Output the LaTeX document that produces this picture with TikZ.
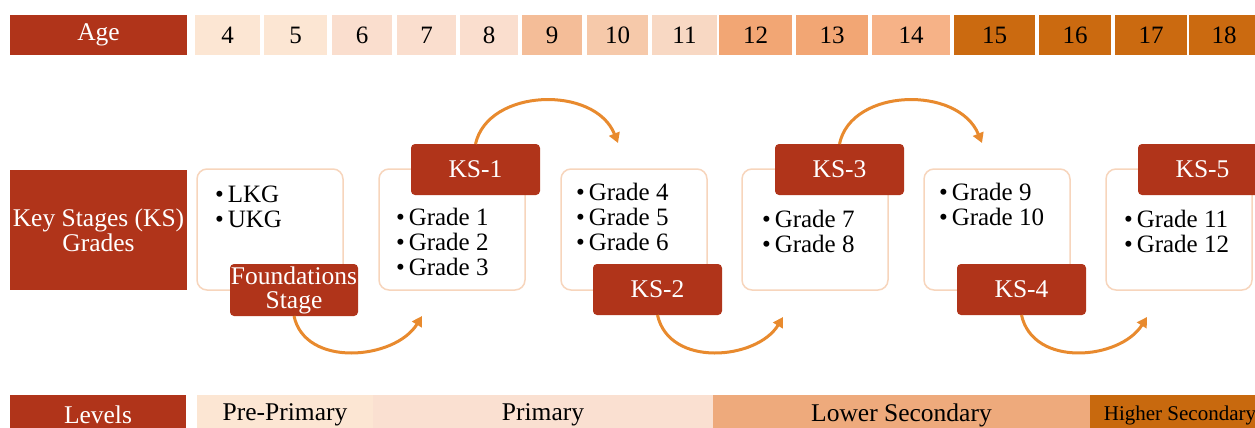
\documentclass[tikz,border=0pt]{standalone}
\usepackage{fontspec}
\setmainfont{Liberation Serif}
\usetikzlibrary{arrows.meta}
\definecolor{dred}{HTML}{B0341A}
\definecolor{cA}{HTML}{FCE6D3}
\definecolor{cB}{HTML}{FADECE}
\definecolor{cC}{HTML}{F4BD98}
\definecolor{cD}{HTML}{F6C9AA}
\definecolor{cE}{HTML}{F8D8C3}
\definecolor{cF}{HTML}{F2A674}
\definecolor{cG}{HTML}{F6B287}
\definecolor{cH}{HTML}{CB6A10}
\definecolor{lvA}{HTML}{FCE6D3}
\definecolor{lvB}{HTML}{FAE0D1}
\definecolor{lvC}{HTML}{EEAA7C}
\definecolor{lvD}{HTML}{C8690E}
\definecolor{gborder}{HTML}{F7D5BC}
\definecolor{arcc}{HTML}{E88A2E}
\begin{document}
\begin{tikzpicture}[x=1pt,y=-1pt,
  every node/.style={inner sep=0pt,outer sep=0pt},
  bigfont/.style={font=\fontsize{25.5}{25}\selectfont},
  headbox/.style={bigfont,anchor=north west,fill=dred,text=white,align=center},
  agecell/.style={font=\fontsize{25}{25}\selectfont,anchor=north west,minimum height=40pt,text=black},
  gbox/.style={anchor=north west,draw=gborder,line width=1.5pt,fill=white,rounded corners=10pt,minimum width=146pt,minimum height=121pt},
  gtext/.style={font=\fontsize{25}{25}\selectfont,anchor=base west,align=left},
  kslabel/.style={font=\fontsize{25.5}{25}\selectfont,anchor=north west,fill=dred,text=white,rounded corners=4pt,minimum width=129pt,minimum height=51pt,align=center},
  lvcell/.style={font=\fontsize{25.5}{25}\selectfont,anchor=north west,minimum height=40pt,text=black},
  arc/.style={draw=arcc,line width=3pt,-{Triangle[length=10pt,width=11pt]}}
]
\useasboundingbox (0,0) rectangle (1255,428);
\clip (0,0) rectangle (1255,428);

% Age row
\node[headbox,minimum width=177pt,minimum height=40pt] (age) at (10,15) {Age};
\foreach \a/\x/\w/\c in {4/195/65/cA,5/264/63/cA,6/332/60/cB,7/397/59/cB,8/460/58/cB,9/522/60/cC,10/587/61/cD,11/652/65/cE,12/719/73/cF,13/796/72/cF,14/872/78/cG,15/954/81/cH,16/1039/72/cH,17/1115/72/cH,18/1189/70/cH}{
  \node[agecell,fill=\c,minimum width=\w pt] (age\a) at (\x,15) {\a};
}

% Key stages header
\node[headbox,minimum width=177pt,minimum height=120pt] (ks) at (10,170) {Key Stages (KS)\\Grades};

% Grade boxes
\node[gbox] (g0) at (197,169) {};
\node[gbox] (g1) at (379,169) {};
\node[gbox] (g2) at (561,169) {};
\node[gbox] (g3) at (742,169) {};
\node[gbox] (g4) at (924,169) {};
\node[gbox] (g5) at (1106,169) {};

% Grade texts (base = last line)
\node[gtext] (t0) at (215,227) {•\hspace{4pt}LKG\\•\hspace{4pt}UKG};
\node[gtext] (t1) at (396,275) {•\hspace{4pt}Grade 1\\•\hspace{4pt}Grade 2\\•\hspace{4pt}Grade 3};
\node[gtext] (t2) at (576,250) {•\hspace{4pt}Grade 4\\•\hspace{4pt}Grade 5\\•\hspace{4pt}Grade 6};
\node[gtext] (t3) at (762,252) {•\hspace{4pt}Grade 7\\•\hspace{4pt}Grade 8};
\node[gtext] (t4) at (939,225) {•\hspace{4pt}Grade 9\\•\hspace{4pt}Grade 10};
\node[gtext] (t5) at (1124,252) {•\hspace{4pt}Grade 11\\•\hspace{4pt}Grade 12};

% Stage labels
\node[kslabel,minimum width=128pt,minimum height=52pt,font=\fontsize{25.5}{24}\selectfont] (fs) at (230,264) {Foundations\\Stage};
\node[kslabel] (ks1) at (411,144) {KS-1};
\node[kslabel] (ks2) at (593,264) {KS-2};
\node[kslabel] (ks3) at (775,144) {KS-3};
\node[kslabel] (ks4) at (957,264) {KS-4};
\node[kslabel] (ks5) at (1138,144) {KS-5};

% Arrow end points
\coordinate (e1) at (618,143);
\coordinate (e2) at (982,143);
\coordinate (e3) at (422,316);
\coordinate (e4) at (783,317);
\coordinate (e5) at (1147,317);

\draw[arc] (ks1.north) .. controls (488,88) and (595,85) .. (e1);
\draw[arc] (ks3.north) .. controls (851,88) and (958,85) .. (e2);
\draw[arc] (fs.south) .. controls (305,368) and (395,360) .. (e3);
\draw[arc] (ks2.south) .. controls (669,368) and (757,360) .. (e4);
\draw[arc] (ks4.south) .. controls (1033,368) and (1120,360) .. (e5);

% Levels row
\node[headbox,minimum width=176pt,minimum height=40pt] (lv) at (10,395) {Levels};
\node[lvcell,fill=lvA,minimum width=176pt] (pre) at (197,395) {Pre-Primary};
\node[lvcell,fill=lvB,minimum width=340pt] (pri) at (373,395) {Primary};
\node[lvcell,fill=lvC,minimum width=377pt] (low) at (713,395) {Lower Secondary};
\node[lvcell,fill=lvD,minimum width=180pt,font=\fontsize{21}{22}\selectfont] (hig) at (1090,395) {Higher Secondary};
\end{tikzpicture}
\end{document}
